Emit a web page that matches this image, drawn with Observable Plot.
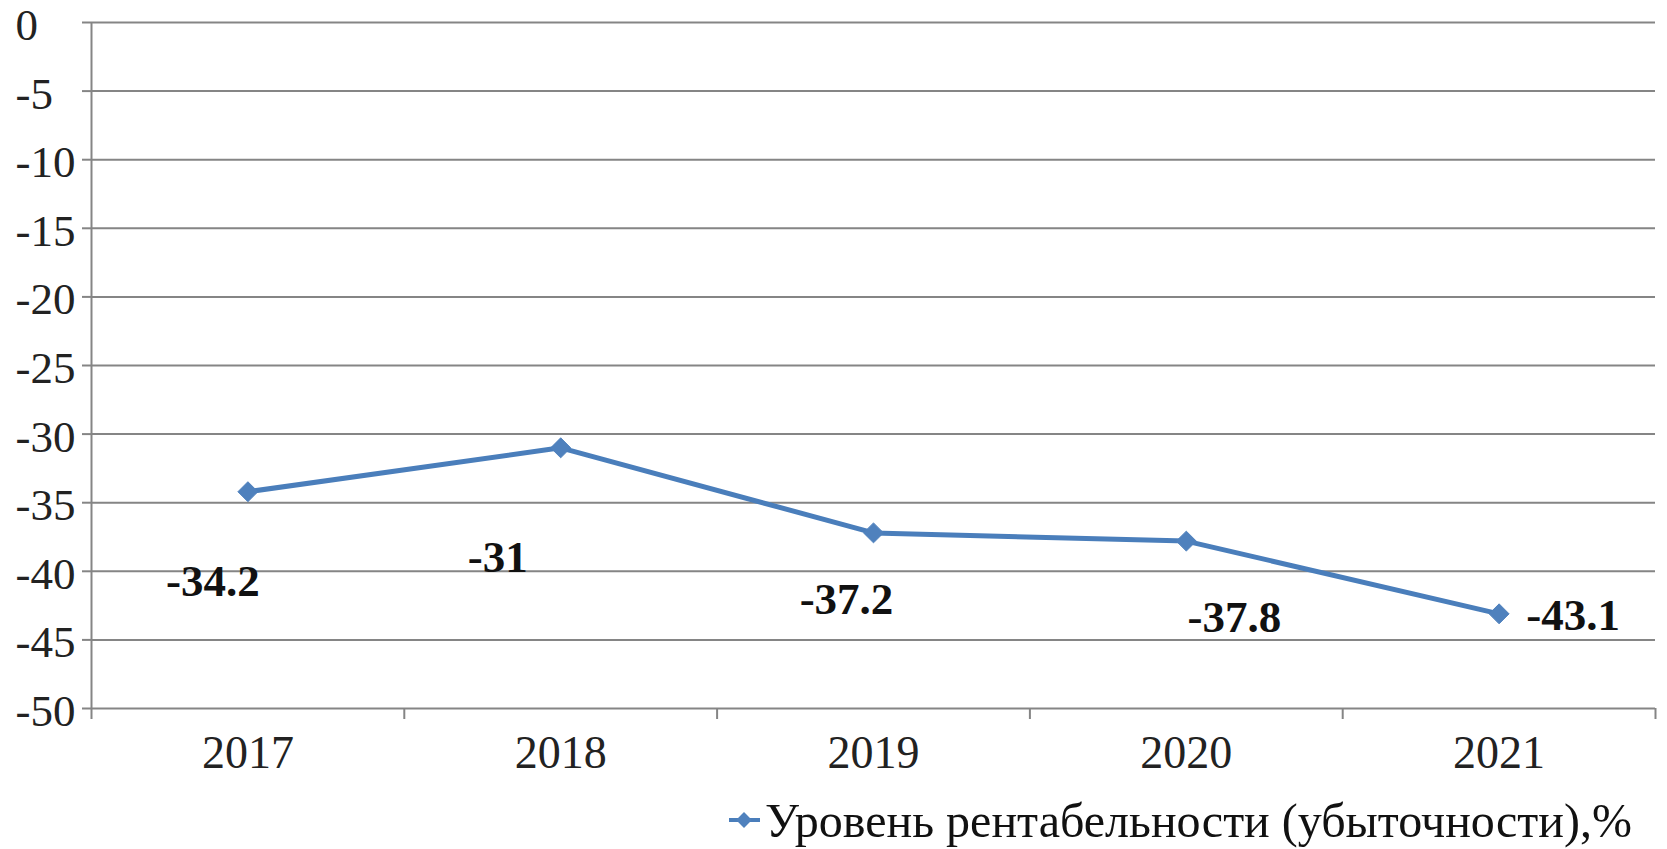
<!DOCTYPE html>
<html>
<head>
<meta charset="utf-8">
<script src="https://cdn.jsdelivr.net/npm/d3@7"></script>
<script src="https://cdn.jsdelivr.net/npm/@observablehq/plot@0.6"></script>
<style>
  html, body { margin: 0; padding: 0; background: #fff; }
  #chart { width: 1667px; }
  #legend { display: block; }
</style>
</head>
<body>
<div id="chart"></div>
<script>
// ---- data ----
const years = [2017, 2018, 2019, 2020, 2021];
const values = [-34.2, -31, -37.2, -37.8, -43.1];
const yTicks = [0, -5, -10, -15, -20, -25, -30, -35, -40, -45, -50];
const seriesName = "Уровень рентабельности (убыточности),%";

// ---- label placement (pixel offsets from each point, as in the source) ----
const labelOffsets = [[-35, 90], [-63, 110], [-27, 67], [48, 76], [74, 2]];

const data = years.map((year, i) => ({year, value: values[i]}));
const boundaries = years.map(y => y - 0.5).concat([years[years.length - 1] + 0.5]);

const lineColor = "#4a7ebb";
const gridColor = "#858585";
const font = "'Liberation Serif', 'Times New Roman', serif";

const labelMarks = data.map((d, i) =>
  Plot.text([d], {
    x: "year", y: "value", text: dd => String(dd.value),
    dx: labelOffsets[i][0], dy: labelOffsets[i][1],
    fontSize: 45, fontWeight: "bold", fill: "#111", fontFamily: font
  })
);

const plot = Plot.plot({
  width: 1667,
  height: 785,
  marginLeft: 91,
  marginRight: 12,
  marginTop: 22,
  marginBottom: 77,
  style: {fontFamily: font, background: "#fff", color: "#222", overflow: "visible"},
  x: {type: "linear", domain: [boundaries[0], boundaries[boundaries.length - 1]], label: null},
  y: {domain: [yTicks[yTicks.length - 1], yTicks[0]], label: null},
  marks: [
    Plot.ruleY(yTicks, {stroke: gridColor, strokeWidth: 2}),
    Plot.ruleX([boundaries[0]], {y1: yTicks[0], y2: yTicks[yTicks.length - 1], stroke: gridColor, strokeWidth: 2}),
    Plot.axisY({ticks: yTicks, tickSize: 9, tickFormat: () => "", stroke: gridColor, strokeWidth: 2, label: null}),
    Plot.text(yTicks, {y: d => d, text: d => String(d), frameAnchor: "left", textAnchor: "start",
      dx: -76, dy: 3, fontSize: 45, fontFamily: font, fill: "#222"}),
    Plot.axisX({ticks: boundaries, tickSize: 11, tickFormat: () => "", stroke: gridColor, strokeWidth: 2, label: null}),
    Plot.axisX({ticks: years, tickSize: 0, tickPadding: 27, fontSize: 46, fontFamily: font, tickFormat: d => String(d), fill: "#222", label: null}),
    Plot.line(data, {x: "year", y: "value", stroke: lineColor, strokeWidth: 5}),
    Plot.dot(data, {x: "year", y: "value", symbol: "diamond2", r: 9, fill: "#4f81bd", stroke: "#4f81bd", strokeWidth: 1}),
    ...labelMarks
  ]
});
document.getElementById("chart").appendChild(plot);

// ---- legend below the chart ----
const legend = d3.select("#chart").append("svg")
  .attr("id", "legend")
  .attr("width", 1667).attr("height", 64);
legend.append("line").attr("x1", 729).attr("x2", 760).attr("y1", 35).attr("y2", 35)
  .attr("stroke", lineColor).attr("stroke-width", 4);
legend.append("path").attr("d", d3.symbol(d3.symbolDiamond2, 160)())
  .attr("transform", "translate(744,35)").attr("fill", "#4f81bd");
legend.append("text").attr("x", 765).attr("y", 52)
  .attr("font-family", font).attr("font-size", 49).attr("fill", "#111")
  .attr("textLength", 867).attr("lengthAdjust", "spacingAndGlyphs")
  .text(seriesName);
</script>
</body>
</html>
